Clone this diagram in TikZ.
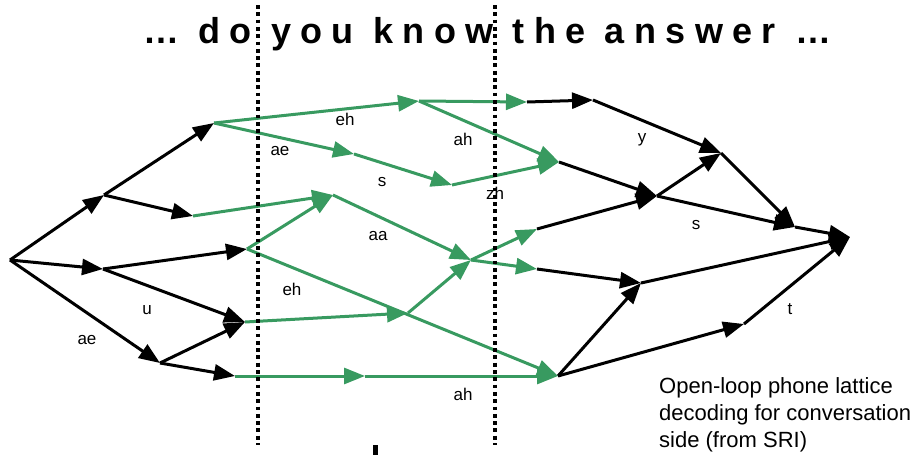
\documentclass[tikz,border=0pt]{standalone}
\usepackage{fontspec}
\setmainfont{Liberation Sans}
\newfontfamily\headfont[LetterSpace=26]{Liberation Sans}
\usepackage{tikz}
\usetikzlibrary{arrows.meta}

\definecolor{phgreen}{RGB}{56,154,96}

\tikzset{
  arc/.style={line width=3pt, -{Triangle[length=21pt,width=16pt]}},
  blk/.style={arc, draw=black, fill=black},
  grn/.style={arc, draw=phgreen, fill=phgreen},
  lbl/.style={font=\fontsize{17}{20}\selectfont, inner sep=0pt},
  border/.style={line width=3.5pt, dash pattern=on 3.8pt off 3.5pt},
}

\begin{document}
\begin{tikzpicture}[x=1pt, y=-1pt]
  \useasboundingbox (0,0) rectangle (919,455);

  % lattice states
  \coordinate (s)  at (10,260);
  \coordinate (a)  at (104,195);
  \coordinate (b)  at (214,123);
  \coordinate (c)  at (193,216);
  \coordinate (d)  at (103,269);
  \coordinate (e)  at (247,249);
  \coordinate (f)  at (245,322);
  \coordinate (g)  at (160,363);
  \coordinate (h)  at (235,376);
  \coordinate (i)  at (419,101);
  \coordinate (j)  at (354,154);
  \coordinate (k)  at (452,185);
  \coordinate (l)  at (559,162);
  \coordinate (m)  at (527,102);
  \coordinate (n)  at (593,100);
  \coordinate (o)  at (721,153);
  \coordinate (p)  at (657,196);
  \coordinate (q)  at (795,227);
  \coordinate (r)  at (850,237);
  \coordinate (t1) at (333,195);
  \coordinate (u1) at (471,260);
  \coordinate (v)  at (558,376);
  \coordinate (w)  at (408,313);
  \coordinate (x1) at (537,229);
  \coordinate (y1) at (537,269);
  \coordinate (z)  at (641,283);
  \coordinate (aa) at (365,376);
  \coordinate (ab) at (744,324);

  % black arcs
  \draw[blk] (s) -- (a);
  \draw[blk] (a) -- (b);
  \draw[blk] (a) -- (c);
  \draw[blk] (s) -- (d);
  \draw[blk] (d) -- (e);
  \draw[blk] (d) -- (f);
  \draw[blk] (s) -- (g);
  \draw[blk] (g) -- (f);
  \draw[blk] (g) -- (h);
  \draw[blk] (m) -- (n);
  \draw[blk] (n) -- (o);
  \draw[blk] (l) -- (p);
  \draw[blk] (p) -- (o);
  \draw[blk] (o) -- (q);
  \draw[blk] (p) -- (q);
  \draw[blk] (q) -- (r);
  \draw[blk] (x1) -- (p);
  \draw[blk] (y1) -- (z);
  \draw[blk] (z) -- (r);
  \draw[blk] (v) -- (z);
  \draw[blk] (v) -- (ab);
  \draw[blk] (ab) -- (r);

  % green arcs
  \draw[grn] (b) -- (i);
  \draw[grn] (b) -- (j);
  \draw[grn] (j) -- (k);
  \draw[grn] (k) -- (l);
  \draw[grn] (i) -- (m);
  \draw[grn] (i) -- (l);
  \draw[grn] (c) -- (t1);
  \draw[grn] (e) -- (t1);
  \draw[grn] (t1) -- (u1);
  \draw[grn] (e) -- (v);
  \draw[grn] (f) -- (w);
  \draw[grn] (w) -- (u1);
  \draw[grn] (u1) -- (x1);
  \draw[grn] (u1) -- (y1);
  \draw[grn] (h) -- (aa);
  \draw[grn] (aa) -- (v);

  % phone labels
  \node[lbl] (ph-ae1) at (87,340)  {ae};
  \node[lbl] (ph-u)   at (147,310) {u};
  \node[lbl] (ph-eh1) at (345,119) {eh};
  \node[lbl] (ph-ae2) at (280,151) {ae};
  \node[lbl] (ph-s1)  at (382,182) {s};
  \node[lbl] (ph-ah1) at (463,139) {ah};
  \node[lbl] (ph-zh)  at (495,193) {zh};
  \node[lbl] (ph-aa)  at (378,236) {aa};
  \node[lbl] (ph-eh2) at (292,289) {eh};
  \node[lbl] (ph-ah2) at (463,394) {ah};
  \node[lbl] (ph-y)   at (642,140) {y};
  \node[lbl] (ph-s2)  at (696,225) {s};
  \node[lbl] (ph-t)   at (790,309) {t};

  % word boundaries
  \draw[border] (258,5) -- (258,445);
  \draw[border] (495,5) -- (495,445);

  \node[anchor=base west, inner sep=0pt,
        font=\headfont\bfseries\fontsize{36}{42}\selectfont]
    (title) at (143,43) {… do you know the answer …};

  \node[anchor=north west, inner sep=0pt, align=left,
        font=\fontsize{22}{27}\selectfont]
    (caption) at (659,377)
    {Open-loop phone lattice\\decoding for conversation\\side (from SRI)};

  \fill (373,445) rectangle (378,455);
\end{tikzpicture}
\end{document}
